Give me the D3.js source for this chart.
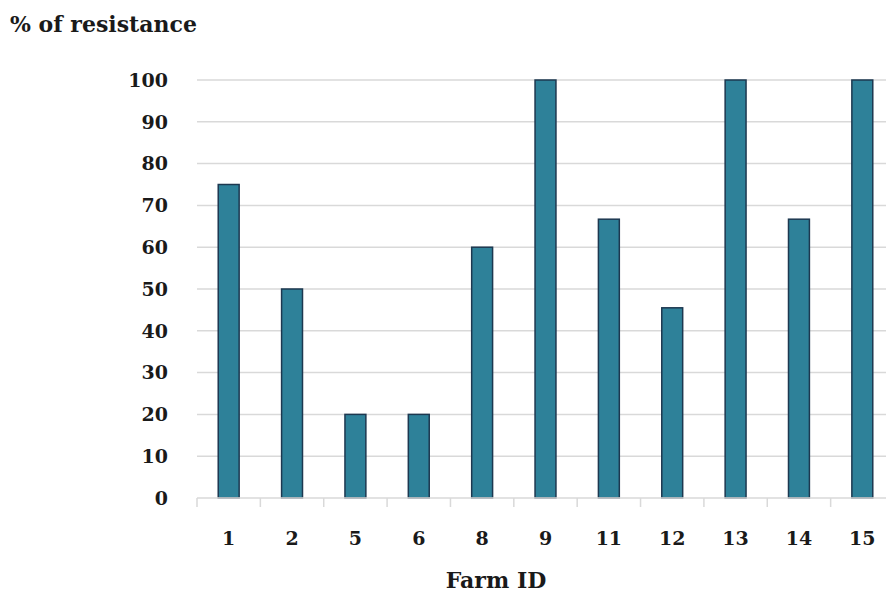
<!DOCTYPE html>
<html>
<head>
<meta charset="utf-8">
<script src="https://cdn.jsdelivr.net/npm/d3@7.9.0/dist/d3.min.js"></script>
<style>
  body { margin: 0; background: #fff; }
  text { font-family: "DejaVu Serif", "Liberation Serif", serif; font-weight: bold; fill: #1a1a1a; }
</style>
</head>
<body>
<div id="chart"></div>
<script>
const farms = ['1', '2', '5', '6', '8', '9', '11', '12', '13', '14', '15'];
const resistance = [75, 50, 20, 20, 60, 100, 66.7, 45.5, 100, 66.7, 100];
const yTicks = [0, 10, 20, 30, 40, 50, 60, 70, 80, 90, 100];

const width = 886;
const height = 595;

const data = farms.map((f, i) => ({ farm: f, value: resistance[i] }));

const svg = d3.select('#chart')
  .append('svg')
  .attr('width', width)
  .attr('height', height);

const xScale = d3.scaleBand()
  .domain(farms)
  .range([197, 894])
  .padding(0);

const yScale = d3.scaleLinear()
  .domain([0, 100])
  .range([498, 80]);

// gridlines
svg.append('g')
  .selectAll('line')
  .data(yTicks.filter(d => d > 0))
  .join('line')
  .attr('x1', 197)
  .attr('x2', width)
  .attr('y1', d => yScale(d))
  .attr('y2', d => yScale(d))
  .attr('stroke', '#d9d9d9')
  .attr('stroke-width', 1.5);

// y labels
svg.append('g')
  .selectAll('text')
  .data(yTicks)
  .join('text')
  .attr('x', 168)
  .attr('y', d => yScale(d))
  .attr('dy', '0.36em')
  .attr('text-anchor', 'end')
  .style('font-size', '19px')
  .text(d => d);

// bars
const barW = xScale.bandwidth() * 0.33;
svg.append('g')
  .selectAll('rect')
  .data(data)
  .join('rect')
  .attr('x', d => xScale(d.farm) + (xScale.bandwidth() - barW) / 2)
  .attr('y', d => yScale(d.value))
  .attr('width', barW)
  .attr('height', d => yScale(0) - yScale(d.value))
  .attr('fill', '#2e8199')
  .attr('stroke', '#1d3850')
  .attr('stroke-width', 1.5);

// x axis
const xAxis = svg.append('g')
  .attr('transform', 'translate(0, 498)');
xAxis.append('line')
  .attr('x1', 197).attr('x2', width)
  .attr('stroke', '#d9d9d9').attr('stroke-width', 1.5);
xAxis.selectAll('line.tick')
  .data(farms)
  .join('line')
  .attr('class', 'tick')
  .attr('x1', d => xScale(d))
  .attr('x2', d => xScale(d))
  .attr('y1', 0).attr('y2', 9)
  .attr('stroke', '#d9d9d9').attr('stroke-width', 1.5);
xAxis.selectAll('text')
  .data(farms)
  .join('text')
  .attr('x', d => xScale(d) + xScale.bandwidth() / 2)
  .attr('y', 47)
  .attr('text-anchor', 'middle')
  .style('font-size', '19px')
  .text(d => d);

// titles
svg.append('text')
  .attr('x', 10)
  .attr('y', 32)
  .style('font-size', '22px')
  .text('% of resistance');

svg.append('text')
  .attr('x', 496)
  .attr('y', 588)
  .attr('text-anchor', 'middle')
  .style('font-size', '22px')
  .text('Farm ID');
</script>
</body>
</html>
